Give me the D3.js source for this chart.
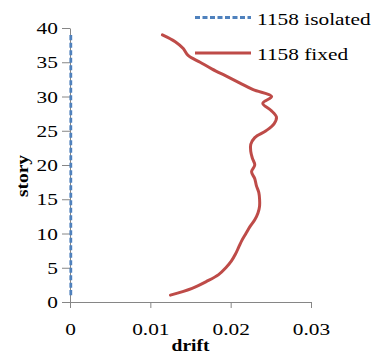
<!DOCTYPE html>
<html>
<head>
<meta charset="utf-8">
<script src="https://cdn.jsdelivr.net/npm/d3@7"></script>
<style>
  html, body { margin: 0; padding: 0; background: #fff; }
  svg { display: block; font-family: "Liberation Serif", "Times New Roman", serif; }
</style>
</head>
<body>
<svg id="chart" width="376" height="356"></svg>
<script>
// story levels
const stories = [1, 2, 3, 4, 5, 6, 7, 8, 9, 10, 11, 12, 13, 14, 15, 16, 17, 18, 19, 20,
                 21, 22, 23, 24, 25, 26, 27, 28, 29, 30, 31, 32, 33, 34, 35, 36, 37, 38, 39];

// drift, 1158 isolated
const isolated = [0.0001, 0.0001, 0.0001, 0.0001, 0.0001, 0.0001, 0.0001, 0.0001, 0.0001, 0.0001,
                  0.0001, 0.0001, 0.0001, 0.0001, 0.0001, 0.0001, 0.0001, 0.0001, 0.0001, 0.0001,
                  0.0001, 0.0001, 0.0001, 0.0001, 0.0001, 0.0001, 0.0001, 0.0001, 0.0001, 0.0001,
                  0.0001, 0.0001, 0.0001, 0.0001, 0.0001, 0.0001, 0.0001, 0.0001, 0.0001];

// drift, 1158 fixed
const fixed = [0.0125, 0.0152, 0.0170, 0.0185, 0.0194, 0.0201, 0.0206, 0.0210, 0.0214, 0.0219,
               0.0224, 0.0230, 0.0234, 0.0236, 0.0236, 0.0235, 0.0232, 0.0230, 0.0226, 0.0230,
               0.0227, 0.0225, 0.0225, 0.0230, 0.0244, 0.0254, 0.0257, 0.0250, 0.0240, 0.0251,
               0.0228, 0.0211, 0.0194, 0.0177, 0.0162, 0.0147, 0.0141, 0.0131, 0.0115];

const xTicks = [0, 0.01, 0.02, 0.03];
const yTicks = [0, 5, 10, 15, 20, 25, 30, 35, 40];
const seriesNames = ['1158 isolated', '1158 fixed'];

const margin = { top: 28, right: 65, bottom: 54, left: 70 };
const W = 376, H = 356;
const width  = W - margin.left - margin.right;
const height = H - margin.top - margin.bottom;

const x = d3.scaleLinear().domain([0, 0.03]).range([0, width]);
const y = d3.scaleLinear().domain([0, 40]).range([height, 0]);

const svg = d3.select('#chart');
const g = svg.append('g').attr('transform', `translate(${margin.left},${margin.top})`);

const axisColor = '#868686';
const blue = '#4f81bd', red = '#be4b48';
const fontSize = 17.5;
const stretch = 'scale(1.22,1)';

// x axis
const xa = g.append('g')
    .attr('transform', `translate(0,${height})`)
    .call(d3.axisBottom(x).tickValues(xTicks).tickSize(6).tickSizeOuter(0).tickPadding(10)
        .tickFormat(d => d === 0 ? '0' : String(d)));
// y axis
const ya = g.append('g')
    .call(d3.axisLeft(y).tickValues(yTicks).tickSize(8).tickSizeOuter(0).tickPadding(2));

[xa, ya].forEach(a => {
    a.select('.domain').attr('stroke', axisColor);
    a.selectAll('.tick line').attr('stroke', axisColor);
    a.selectAll('.tick text')
        .attr('fill', '#000')
        .style('font-size', fontSize + 'px')
        .style('font-family', '"Liberation Serif", serif')
        .attr('transform', stretch);
});
xa.selectAll('.tick text').attr('dy', '0.95em');

// axis titles
g.append('text')
    .attr('transform', `translate(${width / 2},${height + 49}) ${stretch}`)
    .attr('text-anchor', 'middle')
    .style('font-size', '16px')
    .style('font-weight', 'bold')
    .text('drift');

g.append('text')
    .attr('transform', `translate(${28 - margin.left},${176 - margin.top}) rotate(-90) ${stretch}`)
    .attr('text-anchor', 'middle')
    .style('font-size', '16px')
    .style('font-weight', 'bold')
    .text('story');

// series
const line = d3.line()
    .x(d => x(d[0]))
    .y(d => y(d[1]))
    .curve(d3.curveCatmullRom.alpha(0.5));

g.append('path')
    .datum(stories.map((s, i) => [isolated[i], s]))
    .attr('fill', 'none')
    .attr('stroke', blue)
    .attr('stroke-width', 2.8)
    .attr('stroke-dasharray', '5,2.5')
    .attr('d', line);

g.append('path')
    .datum(stories.map((s, i) => [fixed[i], s]))
    .attr('fill', 'none')
    .attr('stroke', red)
    .attr('stroke-width', 3)
    .attr('stroke-linecap', 'round')
    .attr('d', line);

// legend
const legend = svg.append('g');
const legendItems = [
    { name: seriesNames[0], color: blue, dash: '5,2.5', y: 17.5 },
    { name: seriesNames[1], color: red, dash: null, y: 53 }
];
legendItems.forEach(it => {
    legend.append('line')
        .attr('x1', 195).attr('x2', 251)
        .attr('y1', it.y).attr('y2', it.y)
        .attr('stroke', it.color)
        .attr('stroke-width', it.dash ? 2.8 : 3)
        .attr('stroke-dasharray', it.dash);
    legend.append('text')
        .attr('transform', `translate(257,${it.y + 7}) ${stretch}`)
        .style('font-size', fontSize + 'px')
        .attr('fill', '#000')
        .text(it.name);
});
</script>
</body>
</html>
